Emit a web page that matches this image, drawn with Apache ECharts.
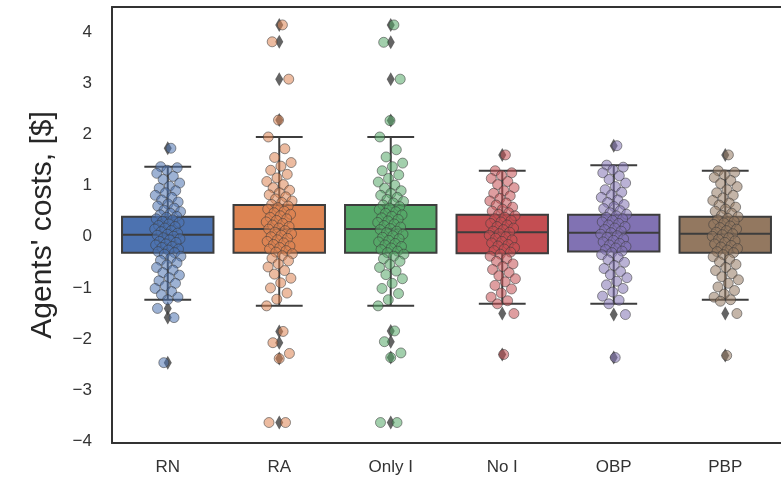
<!DOCTYPE html>
<html>
<head>
<meta charset="utf-8">
<script src="https://cdn.jsdelivr.net/npm/echarts@6/dist/echarts.min.js"></script>
<style>
html,body{margin:0;padding:0;background:#fff;overflow:hidden;}
#chart{width:781px;height:485px;}
</style>
</head>
<body>
<div id="chart"></div>
<script>
const CATEGORIES = ['RN', 'RA', 'Only I', 'No I', 'OBP', 'PBP'];
const Y_TICKS = [-4, -3, -2, -1, 0, 1, 2, 3, 4];

// box statistics
const WHISK_LOW  = [-1.23, -1.35, -1.35, -1.31, -1.31, -1.23];
const Q1         = [-0.31, -0.31, -0.31, -0.32, -0.29, -0.31];
const MEDIAN     = [ 0.04,  0.15,  0.15,  0.09,  0.08,  0.06];
const Q3         = [ 0.39,  0.62,  0.62,  0.43,  0.43,  0.39];
const WHISK_HIGH = [ 1.37,  1.95,  1.95,  1.29,  1.40,  1.29];

// flier values
const OUT_RN    = [1.73, -1.40, -1.58, -2.46];
const OUT_RA    = [4.14, 3.81, 3.08, 2.28, -1.85, -2.07, -2.38, -3.63];
const OUT_ONLYI = [4.14, 3.80, 3.08, 2.27, -1.84, -2.05, -2.36, -3.63];
const OUT_NOI   = [1.60, -1.50, -2.30];
const OUT_OBP   = [1.78, -1.52, -2.36];
const OUT_PBP   = [1.60, -1.50, -2.32];

// strip points
const PTS_RN = [1.73, 1.37, 1.35, 1.30, 1.24, 1.18, 1.12, 1.05, 0.99, 0.95, 0.90, 0.86, 0.81, 0.77, 0.72, 0.68, 0.64, 0.60, 0.56, 0.52, 0.49, 0.46, 0.43, 0.40, 0.38, 0.35, 0.33, 0.30, 0.28, 0.25, 0.22, 0.20, 0.17, 0.15, 0.12, 0.10, 0.07, 0.05, 0.03, 0.01, -0.02, -0.04, -0.06, -0.09, -0.11, -0.14, -0.16, -0.19, -0.21, -0.24, -0.26, -0.29, -0.31, -0.34, -0.38, -0.42, -0.46, -0.51, -0.55, -0.60, -0.65, -0.70, -0.75, -0.80, -0.86, -0.91, -0.96, -1.01, -1.07, -1.13, -1.18, -1.23, -1.40, -1.58, -2.46];
const PTS_RA = [4.14, 3.81, 3.08, 2.28, 1.95, 1.72, 1.55, 1.45, 1.38, 1.30, 1.22, 1.15, 1.08, 1.02, 0.96, 0.91, 0.86, 0.82, 0.78, 0.74, 0.70, 0.67, 0.63, 0.60, 0.57, 0.54, 0.50, 0.47, 0.44, 0.41, 0.38, 0.35, 0.32, 0.29, 0.26, 0.23, 0.20, 0.17, 0.15, 0.12, 0.09, 0.06, 0.03, 0.00, -0.03, -0.06, -0.09, -0.12, -0.15, -0.18, -0.21, -0.24, -0.27, -0.30, -0.33, -0.37, -0.42, -0.47, -0.53, -0.59, -0.66, -0.73, -0.81, -0.90, -1.00, -1.10, -1.22, -1.35, -1.85, -2.07, -2.28, -2.38, -3.63, -3.63];
const PTS_ONLYI = [4.14, 3.80, 3.08, 2.27, 1.95, 1.70, 1.56, 1.44, 1.37, 1.29, 1.21, 1.14, 1.07, 1.01, 0.95, 0.90, 0.85, 0.81, 0.77, 0.73, 0.69, 0.66, 0.62, 0.59, 0.56, 0.53, 0.49, 0.46, 0.43, 0.40, 0.37, 0.34, 0.31, 0.28, 0.25, 0.22, 0.19, 0.16, 0.14, 0.11, 0.08, 0.05, 0.02, -0.01, -0.04, -0.07, -0.10, -0.13, -0.16, -0.19, -0.22, -0.25, -0.28, -0.31, -0.34, -0.38, -0.43, -0.48, -0.54, -0.60, -0.67, -0.74, -0.82, -0.91, -1.01, -1.11, -1.23, -1.35, -1.84, -2.05, -2.27, -2.36, -3.63, -3.63];
const PTS_NOI = [1.60, 1.29, 1.25, 1.20, 1.14, 1.08, 1.02, 0.96, 0.90, 0.85, 0.80, 0.75, 0.70, 0.66, 0.62, 0.58, 0.54, 0.50, 0.47, 0.44, 0.41, 0.38, 0.35, 0.32, 0.29, 0.26, 0.23, 0.20, 0.17, 0.14, 0.11, 0.09, 0.06, 0.03, 0.00, -0.03, -0.06, -0.09, -0.12, -0.15, -0.18, -0.21, -0.24, -0.27, -0.30, -0.34, -0.38, -0.43, -0.48, -0.53, -0.58, -0.64, -0.70, -0.76, -0.82, -0.88, -0.95, -1.02, -1.10, -1.18, -1.25, -1.31, -1.50, -2.30];
const PTS_OBP = [1.78, 1.40, 1.36, 1.31, 1.25, 1.19, 1.12, 1.05, 0.98, 0.92, 0.87, 0.82, 0.77, 0.72, 0.67, 0.63, 0.59, 0.55, 0.51, 0.47, 0.44, 0.41, 0.38, 0.35, 0.32, 0.29, 0.26, 0.23, 0.20, 0.17, 0.14, 0.11, 0.08, 0.05, 0.02, -0.01, -0.04, -0.07, -0.10, -0.13, -0.16, -0.19, -0.22, -0.25, -0.28, -0.31, -0.35, -0.40, -0.45, -0.50, -0.56, -0.62, -0.68, -0.74, -0.80, -0.87, -0.94, -1.01, -1.08, -1.16, -1.24, -1.31, -1.52, -2.36];
const PTS_PBP = [1.60, 1.29, 1.26, 1.21, 1.16, 1.10, 1.04, 0.98, 0.92, 0.86, 0.81, 0.76, 0.71, 0.66, 0.62, 0.58, 0.54, 0.50, 0.46, 0.42, 0.39, 0.36, 0.33, 0.30, 0.27, 0.24, 0.21, 0.18, 0.15, 0.12, 0.09, 0.06, 0.04, 0.01, -0.02, -0.05, -0.08, -0.11, -0.14, -0.17, -0.20, -0.23, -0.26, -0.29, -0.31, -0.35, -0.39, -0.44, -0.49, -0.54, -0.60, -0.66, -0.72, -0.78, -0.84, -0.91, -0.98, -1.05, -1.12, -1.18, -1.23, -1.26, -1.50, -2.32];

const PALETTE = ['#4C72B0', '#DD8452', '#55A868', '#C44E52', '#8172B3', '#937860'];
const EDGE = '#3d3d3d';
const FRAME = '#333333';
const FONT = '"Liberation Sans", Arial, sans-serif';

const OUTLIERS = [OUT_RN, OUT_RA, OUT_ONLYI, OUT_NOI, OUT_OBP, OUT_PBP];
const POINTS = [PTS_RN, PTS_RA, PTS_ONLYI, PTS_NOI, PTS_OBP, PTS_PBP];

// deterministic (non-random) horizontal spread for the strip points
function spread(k) { return (((k + 1) * 0.618034) % 1 - 0.5) * 0.24; }

function renderBox(params, api) {
  const i = api.value(0);
  const lo = api.coord([i, api.value(1)]);
  const q1 = api.coord([i, api.value(2)]);
  const md = api.coord([i, api.value(3)]);
  const q3 = api.coord([i, api.value(4)]);
  const hi = api.coord([i, api.value(5)]);
  const bw = api.size([1, 0])[0];
  const half = bw * 0.41;
  const cap = bw * 0.21;
  const x = lo[0];
  const st = { stroke: EDGE, lineWidth: 2 };
  return {
    type: 'group',
    children: [
      { type: 'line', shape: { x1: x, y1: q1[1], x2: x, y2: lo[1] }, style: st },
      { type: 'line', shape: { x1: x, y1: q3[1], x2: x, y2: hi[1] }, style: st },
      { type: 'line', shape: { x1: x - cap, y1: lo[1], x2: x + cap, y2: lo[1] }, style: st },
      { type: 'line', shape: { x1: x - cap, y1: hi[1], x2: x + cap, y2: hi[1] }, style: st },
      { type: 'rect', shape: { x: x - half, y: q3[1], width: 2 * half, height: q1[1] - q3[1] },
        style: { fill: PALETTE[i], stroke: EDGE, lineWidth: 2 } },
      { type: 'line', shape: { x1: x - half, y1: md[1], x2: x + half, y2: md[1] }, style: st }
    ]
  };
}

const series = [];
series.push({
  type: 'custom',
  xAxisIndex: 1,
  renderItem: renderBox,
  encode: { x: 0, y: [1, 2, 3, 4, 5] },
  data: CATEGORIES.map((c, i) => [i, WHISK_LOW[i], Q1[i], MEDIAN[i], Q3[i], WHISK_HIGH[i]]),
  z: 2,
  silent: true
});
const flierData = [];
OUTLIERS.forEach((arr, i) => arr.forEach(v => flierData.push([i, v])));
series.push({
  type: 'scatter',
  xAxisIndex: 1,
  data: flierData,
  symbol: 'diamond',
  symbolSize: [8, 14],
  itemStyle: { color: EDGE },
  z: 3,
  silent: true
});
POINTS.forEach((arr, i) => {
  series.push({
    type: 'scatter',
    xAxisIndex: 1,
    data: arr.map((v, k) => [i + spread(k), v]),
    symbolSize: 10,
    itemStyle: { color: PALETTE[i], borderColor: '#3a3a3a', borderWidth: 1, opacity: 0.55 },
    z: 4,
    silent: true
  });
});

const chart = echarts.init(document.getElementById('chart'), null, { renderer: 'canvas' });
chart.setOption({
  animation: false,
  backgroundColor: '#ffffff',
  grid: { left: 112, top: 7, height: 436, width: 672, show: false },
  xAxis: [
    {
      type: 'category',
      data: CATEGORIES,
      boundaryGap: true,
      position: 'bottom',
      axisLine: { show: true, onZero: false, lineStyle: { color: FRAME, width: 2 } },
      axisTick: { show: false },
      splitLine: { show: false },
      axisLabel: { fontSize: 17, color: '#333333', fontFamily: FONT, margin: 16 }
    },
    {
      type: 'value',
      min: -0.5,
      max: 5.5,
      position: 'top',
      axisLine: { show: true, onZero: false, lineStyle: { color: FRAME, width: 2 } },
      axisTick: { show: false },
      axisLabel: { show: false },
      splitLine: { show: false }
    }
  ],
  yAxis: {
    type: 'value',
    min: -4.03,
    max: 4.49,
    axisLine: { show: true, onZero: false, lineStyle: { color: FRAME, width: 2 } },
    axisTick: { show: false },
    splitLine: { show: false },
    axisLabel: {
      customValues: Y_TICKS,
      fontSize: 17,
      color: '#333333',
      fontFamily: FONT,
      margin: 20,
      formatter: v => (v < 0 ? '\u2212' + Math.abs(v) : String(v))
    },
    name: "Agents' costs, [$]",
    nameLocation: 'middle',
    nameGap: 54,
    nameTextStyle: { fontSize: 30, color: '#262626', fontFamily: FONT }
  },
  series: series
});
</script>
</body>
</html>
